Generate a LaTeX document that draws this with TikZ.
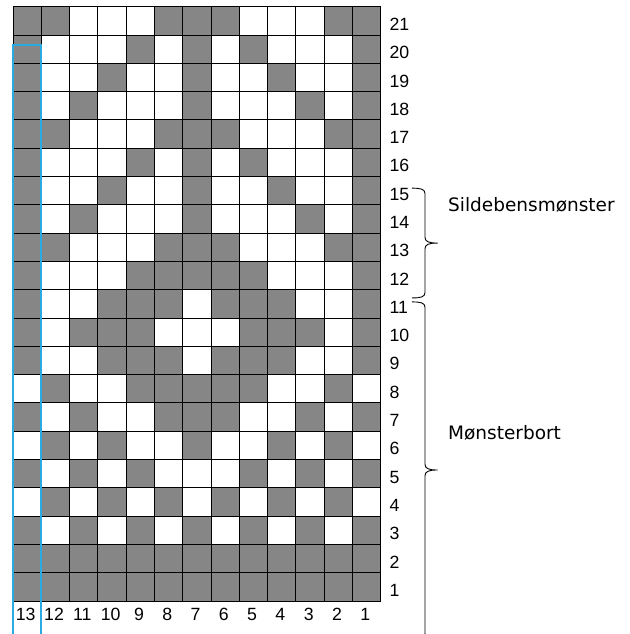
\documentclass[tikz,border=0pt]{standalone}
\usepackage{fontspec}
\newfontfamily\numfont{Liberation Sans}
\newfontfamily\wordfont{DejaVu Sans}
\definecolor{cellgray}{RGB}{134,134,134}
\definecolor{markblue}{RGB}{41,171,226}
\begin{document}
\begin{tikzpicture}[x=1cm, y=1cm]
\tikzset{rownum/.style={anchor=west, inner sep=0pt, font=\numfont\fontsize{17.8}{18}\selectfont},
  colnum/.style={inner sep=0pt, font=\numfont\fontsize{17.8}{18}\selectfont},
  bandlabel/.style={anchor=west, inner sep=0pt, font=\wordfont\fontsize{18.6}{19}\selectfont},
  bracket/.style={line width=0.9pt, line join=round}}
\useasboundingbox (-0.46,-1.166) rectangle (21.80,21.24);
\clip (-0.46,-1.166) rectangle (21.80,21.24);
% gray cells, row by row, columns 13 ... 1 from the left
\foreach \r/\bits in {21/{1,1,0,0,0,1,1,1,0,0,0,1,1}, 20/{1,0,0,0,1,0,1,0,1,0,0,0,1},
  19/{1,0,0,1,0,0,1,0,0,1,0,0,1}, 18/{1,0,1,0,0,0,1,0,0,0,1,0,1},
  17/{1,1,0,0,0,1,1,1,0,0,0,1,1}, 16/{1,0,0,0,1,0,1,0,1,0,0,0,1},
  15/{1,0,0,1,0,0,1,0,0,1,0,0,1}, 14/{1,0,1,0,0,0,1,0,0,0,1,0,1},
  13/{1,1,0,0,0,1,1,1,0,0,0,1,1}, 12/{1,0,0,0,1,1,1,1,1,0,0,0,1},
  11/{1,0,0,1,1,1,0,1,1,1,0,0,1}, 10/{1,0,1,1,1,0,0,0,1,1,1,0,1},
  9/{1,0,0,1,1,1,0,1,1,1,0,0,1}, 8/{0,1,0,0,1,1,1,1,1,0,0,1,0},
  7/{1,0,1,0,0,1,1,1,0,0,1,0,1}, 6/{0,1,0,1,0,0,1,0,0,1,0,1,0},
  5/{1,0,1,0,1,0,0,0,1,0,1,0,1}, 4/{0,1,0,1,0,1,0,1,0,1,0,1,0},
  3/{1,0,1,0,1,0,1,0,1,0,1,0,1}, 2/{1,1,1,1,1,1,1,1,1,1,1,1,1},
  1/{1,1,1,1,1,1,1,1,1,1,1,1,1}}{
  \foreach \b [count=\c from 0] in \bits {
    \ifnum\b=1 \fill[cellgray] (\c,\r-1) rectangle ++(1,1); \fi
  }
}
\draw[line width=1pt] (0,0) grid (13,21);
% row and column numbers
\foreach \r in {1,...,21} \node[rownum] (r\r) at (13.3,\r-0.62) {\r};
\foreach \c in {1,...,13} \node[colnum] (c\c) at (13.45-\c,-0.48) {\c};
% marked column
\draw[markblue, line width=2pt] (0,-1.6) -- (0,19.65) -- (1,19.65) -- (1,-1.6);
% braces
\draw[bracket] (14.1,14.59) .. controls (14.4,14.59) and (14.56,14.56) .. (14.56,14.4)
  -- (14.56,12.85) .. controls (14.56,12.7) and (14.7,12.65) .. (15.0,12.65)
  .. controls (14.7,12.65) and (14.56,12.6) .. (14.56,12.45)
  -- (14.56,10.9) .. controls (14.56,10.74) and (14.4,10.71) .. (14.1,10.71);
\draw[bracket] (14.1,10.57) .. controls (14.4,10.57) and (14.56,10.54) .. (14.56,10.38)
  -- (14.56,4.83) .. controls (14.56,4.68) and (14.7,4.63) .. (15.0,4.63)
  .. controls (14.7,4.63) and (14.56,4.58) .. (14.56,4.43)
  -- (14.56,-1.15) .. controls (14.56,-1.3) and (14.4,-1.33) .. (14.1,-1.33);
\node[bandlabel] (herring) at (15.37,13.99) {Sildebensmønster};
\node[bandlabel] (border) at (15.37,5.95) {Mønsterbort};
\end{tikzpicture}
\end{document}
